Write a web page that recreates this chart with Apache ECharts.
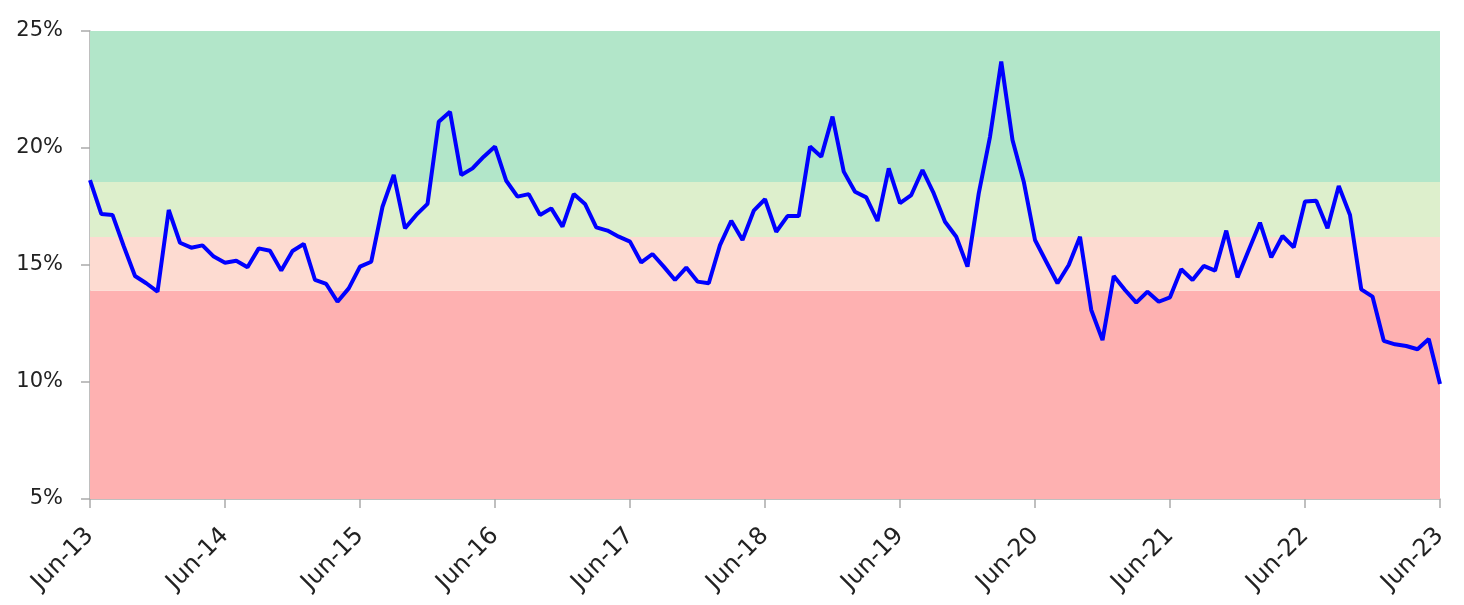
<!DOCTYPE html>
<html>
<head>
<meta charset="utf-8">
<script src="https://cdn.jsdelivr.net/npm/echarts@6/dist/echarts.min.js"></script>
<style>
  html, body { margin: 0; padding: 0; background: #fff; }
  #chart { width: 1464px; height: 605px; }
</style>
</head>
<body>
<div id="chart"></div>
<script>
// months for the category labels, Jun-13 .. Jun-23
const monthNames = ['Jan', 'Feb', 'Mar', 'Apr', 'May', 'Jun', 'Jul', 'Aug', 'Sep', 'Oct', 'Nov', 'Dec'];
const startYear = 13, startMonth = 5, monthCount = 121;

// values, in %
const values = [
  18.63, 17.18, 17.14, 15.8, 14.53, 14.22, 13.86, 17.35, 15.95, 15.74, 15.84, 15.36,
  15.1, 15.18, 14.9, 15.71, 15.61, 14.76, 15.6, 15.9, 14.36, 14.19, 13.43, 14.0,
  14.93, 15.14, 17.49, 18.85, 16.57, 17.14, 17.61, 21.12, 21.55, 18.85, 19.13, 19.63,
  20.06, 18.6, 17.92, 18.03, 17.14, 17.42, 16.64, 18.03, 17.61, 16.61, 16.47, 16.21,
  16.0, 15.11, 15.47, 14.93, 14.36, 14.89, 14.29, 14.22, 15.85, 16.89, 16.07, 17.32,
  17.81, 16.42, 17.09, 17.09, 20.06, 19.63, 21.34, 18.99, 18.13, 17.89, 16.88, 19.13,
  17.64, 17.99, 19.06, 18.06, 16.85, 16.21, 14.93, 18.06, 20.48, 23.69, 20.34, 18.56,
  16.07, 15.14, 14.22, 15.0, 16.21, 13.08, 11.79, 14.53, 13.93, 13.39, 13.86, 13.43,
  13.62, 14.82, 14.36, 14.96, 14.76, 16.47, 14.47, 15.64, 16.81, 15.33, 16.24, 15.76,
  17.71, 17.75, 16.57, 18.38, 17.14, 13.96, 13.65, 11.76, 11.61, 11.54, 11.4, 11.84,
  9.91
];

// background bands (y ranges) and their colours
const bandEdges = [5, 13.9, 16.2, 18.55, 25];
const bandColors = ['#feb1b1', '#fddbd1', '#ddefcc', '#b2e6c9'];

const yTicks = [5, 10, 15, 20, 25];

const categories = [];
for (let i = 0; i < monthCount; i++) {
  const m = (startMonth + i) % 12;
  const y = startYear + Math.floor((startMonth + i) / 12);
  categories.push(monthNames[m] + '-' + y);
}

const bands = bandColors.map((c, i) => [
  { yAxis: bandEdges[i], itemStyle: { color: c } },
  { yAxis: bandEdges[i + 1] }
]);

const chart = echarts.init(document.getElementById('chart'));
chart.setOption({
  animation: false,
  grid: { left: 90, right: 24, top: 31, bottom: 106 },
  xAxis: {
    type: 'category',
    data: categories,
    boundaryGap: false,
    axisLine: { lineStyle: { color: '#aaaaaa', width: 1.5 } },
    axisTick: { interval: 11, length: 9, lineStyle: { color: '#aaaaaa', width: 1.5 } },
    axisLabel: {
      interval: 11, rotate: 45, margin: 33,
      color: '#222', fontSize: 24, fontFamily: 'DejaVu Sans'
    },
    splitLine: { show: false }
  },
  yAxis: {
    type: 'value',
    min: yTicks[0],
    max: yTicks[yTicks.length - 1],
    interval: 5,
    axisLine: { show: true, lineStyle: { color: '#aaaaaa', width: 1.5 } },
    axisTick: { show: true, length: 9, lineStyle: { color: '#aaaaaa', width: 1.5 } },
    axisLabel: {
      formatter: '{value}%', margin: 27,
      color: '#222', fontSize: 21, fontFamily: 'DejaVu Sans'
    },
    splitLine: { show: false }
  },
  series: [{
    type: 'line',
    data: values,
    showSymbol: false,
    lineStyle: { color: '#0000ff', width: 4 },
    markArea: { silent: true, data: bands },
    z: 3
  }]
});
</script>
</body>
</html>
